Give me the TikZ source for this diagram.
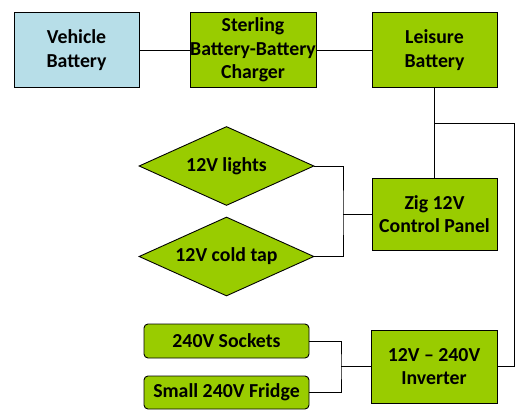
\documentclass[tikz,border=0pt]{standalone}
\usepackage{fontspec}
\setmainfont{Carlito}
\usetikzlibrary{shapes.geometric}
\definecolor{boxgreen}{HTML}{99CC00}
\definecolor{boxblue}{HTML}{B7DEE8}
\tikzset{
  box/.style={draw=black, line width=0.9pt, fill=boxgreen, rectangle, align=center,
    inner sep=0pt, font=\fontsize{19.8}{23.5}\selectfont\bfseries},
  dia/.style={draw=black, line width=0.9pt, fill=boxgreen, diamond, aspect=2.2, align=center,
    inner sep=0pt, minimum width=175pt, minimum height=79pt, font=\fontsize{19.8}{23.5}\selectfont\bfseries},
  rbox/.style={box, rounded corners=4pt},
  wire/.style={draw=black, line width=0.9pt}
}
\begin{document}
\begin{tikzpicture}[x=1pt,y=-1pt]
\useasboundingbox (0,0) rectangle (531,420);
\node[box, fill=boxblue, minimum width=125pt, minimum height=75pt] (veh) at (76.5,50) {Vehicle\\Battery};
\node[box, minimum width=126pt, minimum height=75pt] (ster) at (253,50) {Sterling\\Battery-Battery\\Charger};
\node[box, minimum width=125pt, minimum height=75pt] (leis) at (434.5,50) {Leisure\\Battery};
\node[box, minimum width=125pt, minimum height=72pt] (zig) at (434.5,214) {Zig 12V\\Control Panel};
\node[box, minimum width=126pt, minimum height=73pt] (inv) at (434,366.5) {12V – 240V\\Inverter};
\node[dia] (lights) at (226.5,166) {12V lights};
\node[dia] (tap) at (226.5,256.5) {12V cold tap};
\node[rbox, minimum width=165pt, minimum height=34pt] (sock) at (226.5,341) {240V Sockets};
\node[rbox, minimum width=165pt, minimum height=33pt] (fridge) at (226.5,392.5) {Small 240V Fridge};
\coordinate (j1) at (434.5,123);
\coordinate (r1) at (514,123);
\coordinate (m1) at (343,214);
\coordinate (m2) at (341,366.5);
\draw[wire] (veh.east) -- (ster.west);
\draw[wire] (ster.east) -- (leis.west);
\draw[wire] (leis.south) -- (zig.north);
\draw[wire] (inv.east) -| (r1) -- (j1);
\draw[wire] (lights.east) -| (m1) |- (tap.east);
\draw[wire] (m1) -- (zig.west);
\draw[wire] (sock.east) -| (m2) |- (fridge.east);
\draw[wire] (m2) -- (inv.west);
\end{tikzpicture}
\end{document}
